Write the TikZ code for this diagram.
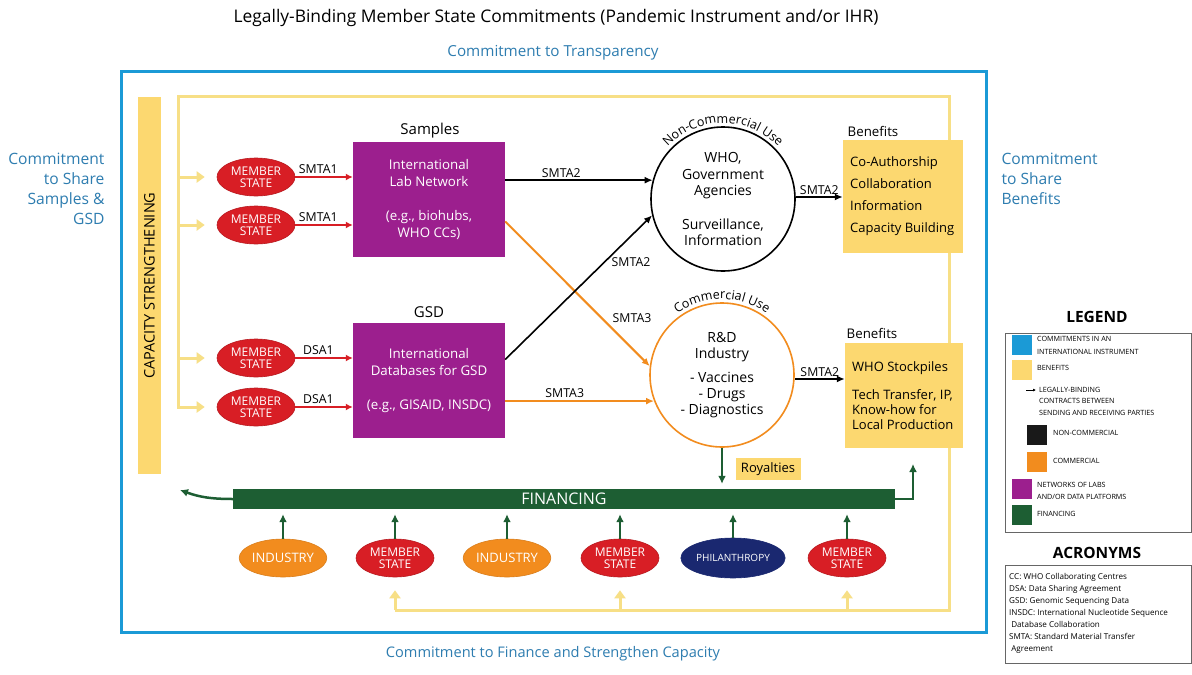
\documentclass[tikz,border=0pt]{standalone}
\usepackage{fontspec}
\setmainfont{Open Sans}
\usetikzlibrary{shapes.geometric,arrows.meta,decorations.text,calc}
\definecolor{cblue}{HTML}{1B9AD6}
\definecolor{ctext}{HTML}{2E7DB0}
\definecolor{cyellow}{HTML}{FCD870}
\definecolor{clyellow}{HTML}{F7DF86}
\definecolor{cpurple}{HTML}{9C1F8E}
\definecolor{cred}{HTML}{D81E25}
\definecolor{corange}{HTML}{F28C1E}
\definecolor{cgreen}{HTML}{1D5E33}
\definecolor{cnavy}{HTML}{1A2870}
\newcommand{\fsz}[2]{\fontsize{#1}{#2}\selectfont}
\tikzset{
 bluetxt/.style={text=ctext, font=\fsz{15.2}{20}},
 yline/.style={draw=clyellow, line width=3pt},
 yarrow/.style={yline, -{Triangle[length=8pt,width=11pt]}},
 ms/.style={ellipse, fill=cred, draw=cred!85!black, line width=0.6pt, minimum width=78pt, minimum height=38pt, inner sep=0pt, text=white, font=\fsz{12}{12}, align=center},
 ind/.style={ms, fill=corange, draw=corange!90!black, font=\fsz{13}{13}},
 phil/.style={ms, fill=cnavy, draw=cnavy, minimum width=104pt, minimum height=40pt, font=\fsz{10}{12}},
 pbox/.style={rectangle, fill=cpurple, minimum width=152pt, minimum height=115pt, inner sep=0pt, text=white, font=\fsz{13.3}{17}, align=center},
 ybox/.style={rectangle, fill=cyellow, inner sep=0pt},
 btxt/.style={anchor=west, inner sep=0pt, align=left},
 lbl/.style={font=\fsz{12.3}{13}, inner sep=2pt},
 redarr/.style={draw=cred, line width=2pt, -{Latex[length=7pt,width=7pt]}},
 blkarr/.style={draw=black, line width=1.6pt, -{Latex[length=8pt,width=7pt]}},
 orarr/.style={draw=corange, line width=2pt, -{Latex[length=8pt,width=7pt]}},
 garr/.style={draw=cgreen, line width=2pt, -{Latex[length=8pt,width=8pt]}},
 circ/.style={circle, draw=black, line width=1.6pt, minimum size=144pt, inner sep=0pt, align=center, font=\fsz{14}{16.5}},
 lgsq/.style={rectangle, minimum width=20pt, minimum height=20pt, inner sep=0pt},
 lgtxt/.style={font=\fsz{7.2}{12}, align=left, anchor=west, inner sep=0pt},
}
\begin{document}
\begin{tikzpicture}[x=1pt,y=-1pt]
\useasboundingbox[fill=white] (0,0) rectangle (1192,675);

% titles
\node[font=\fsz{17.4}{20}] (title) at (556,18) {Legally-Binding Member State Commitments (Pandemic Instrument and/or IHR)};
\node[bluetxt] (transp) at (553,53) {Commitment to Transparency};
\node[bluetxt, font=\fsz{14.6}{18}] (fincap) at (553,654) {Commitment to Finance and Strengthen Capacity};
\node[bluetxt, font=\fsz{15.6}{20}, align=right, anchor=east] (shareS) at (108,189) {Commitment\\to Share\\Samples \&\\GSD};
\node[bluetxt, font=\fsz{15.6}{20}, align=left, anchor=west] (shareB) at (998,179) {Commitment\\to Share\\Benefits};

% outer frame
\node[draw=cblue, line width=3pt, minimum width=865pt, minimum height=561pt, inner sep=0pt] (frame) at (553.5,351.5) {};

% yellow loop coordinates
\coordinate (yTL) at (178,96);
\coordinate (yTR) at (949,96);
\coordinate (yBR) at (949,610);
\coordinate (yBL) at (395,610);
\coordinate (yL4) at (178,407);

% member states (left)
\node[ms] (ms1) at (256,177) {MEMBER\\STATE};
\node[ms] (ms2) at (256,225) {MEMBER\\STATE};
\node[ms] (ms3) at (256,358) {MEMBER\\STATE};
\node[ms] (ms4) at (256,407) {MEMBER\\STATE};

% bottom ellipses
\node[ind] (ind1) at (283,558) {INDUSTRY};
\node[ms] (ms5) at (395,558) {MEMBER\\STATE};
\node[ind] (ind2) at (507,558) {INDUSTRY};
\node[ms] (ms6) at (620,558) {MEMBER\\STATE};
\node[phil] (phil) at (733,558) {PHILANTHROPY};
\node[ms] (ms7) at (847,558) {MEMBER\\STATE};

% yellow loop
\draw[yarrow, shorten >=12pt] (yBL) -- (yBR) -- (yTR) -- (yTL) -- (yL4) -- (ms4.west);
\draw[yarrow, shorten >=12pt] (yTL |- ms1) -- (ms1.west);
\draw[yarrow, shorten >=12pt] (yTL |- ms2) -- (ms2.west);
\draw[yarrow, shorten >=12pt] (yTL |- ms3) -- (ms3.west);
\draw[yarrow, shorten >=13pt] (yBL) -- (ms5.south);
\draw[yarrow, shorten >=13pt] (ms6.south |- yBL) -- (ms6.south);
\draw[yarrow, shorten >=13pt] (ms7.south |- yBL) -- (ms7.south);

% capacity bar
\node[fill=cyellow, minimum width=377pt, minimum height=23pt, inner sep=0pt, rotate=90, font=\fsz{14.5}{15}] (cap) at (149.5,285.5) {CAPACITY STRENGTHENING};

% purple boxes
\node[pbox] (lab) at (429,199.5) {International\\Lab Network\\[17pt](e.g., biohubs,\\WHO CCs)};
\node[pbox] (gsd) at (429,380.5) {International\\Databases for GSD\\[17pt](e.g., GISAID, INSDC)};
\node[font=\fsz{15}{17}] (labT) at (430,131) {Samples};
\node[font=\fsz{15}{17}] (gsdT) at (429,312) {GSD};

% circles
\node[circ] (nc) at (723,199) {WHO,\\Government\\Agencies\\[17pt]Surveillance,\\Information};
\node[circ, draw=corange, font=\fsz{14}{16}] (cc) at (722,375) {R\&D\\Industry\\[8pt]- Vaccines\\- Drugs\\- Diagnostics};
\path[decorate, decoration={text along path, text align=center, text={|\fsz{12.5}{14}|Non-Commercial Use}}] (nc.center) ++(150:76pt) arc[start angle=150, end angle=30, radius=76pt];
\path[decorate, decoration={text along path, text align=center, text={|\fsz{12.5}{14}|Commercial Use}}] (cc.center) ++(140:76pt) arc[start angle=140, end angle=40, radius=76pt];

% benefits
\node[ybox, minimum width=120pt, minimum height=113pt] (ben1) at (903,196.5) {};
\node[btxt, font=\fsz{13}{22}] (ben1t) at (850,196.5) {Co-Authorship\\Collaboration\\Information\\Capacity Building};
\node[ybox, minimum width=118pt, minimum height=105pt] (ben2) at (904,395.5) {};
\node[btxt, font=\fsz{13}{15}] (ben2t) at (852,396) {WHO Stockpiles\\[13pt]Tech Transfer, IP,\\Know-how for\\Local Production};
\node[font=\fsz{13.3}{15}] (ben1T) at (873,131) {Benefits};
\node[font=\fsz{13.3}{15}] (ben2T) at (872,333) {Benefits};

% contracts
\draw[redarr] (ms1.east) -- (ms1.east -| lab.west) node[pos=0.4, above, lbl] {SMTA1};
\draw[redarr] (ms2.east) -- (ms2.east -| lab.west) node[pos=0.4, above, lbl] {SMTA1};
\draw[redarr] (ms3.east) -- (ms3.east -| gsd.west) node[pos=0.4, above, lbl] {DSA1};
\draw[redarr] (ms4.east) -- (ms4.east -| gsd.west) node[pos=0.4, above, lbl] {DSA1};

\draw[blkarr] (lab.east |- nc.165) -- (nc.165) node[pos=0.38, above, lbl] {SMTA2};
\draw[orarr] ($(lab.east)+(0,22)$) -- (cc.173);
\draw[blkarr] ($(gsd.east)+(0,-21)$) -- (nc.193);
\draw[orarr] (gsd.east |- cc.201) -- (cc.201) node[pos=0.4, above, lbl] {SMTA3};
\node[lbl] (l2) at (631,262) {SMTA2};
\node[lbl] (l3) at (632,318) {SMTA3};

\coordinate (ncE) at ($(nc.east)+(0,-2)$);
\coordinate (ccE) at ($(cc.east)+(0,4)$);
\draw[blkarr] (ncE) -- (ncE -| ben1.west) node[midway, above, lbl] {SMTA2};
\draw[blkarr] (ccE) -- (ccE -| ben2.west) node[midway, above, lbl] {SMTA2};

% financing
\node[fill=cgreen, minimum width=662pt, minimum height=20pt, inner sep=0pt, text=white, font=\fsz{16}{16}] (fin) at (564,499) {FINANCING};
\node[fill=cyellow, minimum width=65pt, minimum height=22pt, inner sep=0pt, font=\fsz{13}{14}] (roy) at (768,469) {Royalties};
\draw[garr, shorten >=5pt] (cc.south) -- (cc.south |- fin.north);
\coordinate (finL) at (180,490);
\coordinate (finR) at (913,464);
\draw[garr, line width=2.5pt] (fin.west) to[out=180,in=-20] (finL);
\draw[garr, line width=2.5pt] (fin.east) -| (finR);
\foreach \n in {ind1,ms5,ind2,ms6,phil,ms7}{
  \draw[garr, shorten >=5pt] (\n.north) -- (\n.north |- fin.south);
}

% legend
\node[font=\bfseries\fsz{15.5}{17}] (legT) at (1097,317) {LEGEND};
\node[draw=black!60, line width=0.8pt, minimum width=186pt, minimum height=199pt, inner sep=0pt] (legB) at (1098,432.5) {};
\node[lgsq, fill=cblue] (lg1) at (1022,345) {};
\node[lgtxt, font=\fsz{7.2}{13}] (lt1) at (1037,345) {COMMITMENTS IN AN\\INTERNATIONAL INSTRUMENT};
\node[lgsq, fill=cyellow] (lg2) at (1022,370) {};
\node[lgtxt] (lt2) at (1037,368) {BENEFITS};
\coordinate (la1) at (1026,390);
\coordinate (la2) at (1036,390);
\draw[black, line width=0.6pt, -{Latex[length=3pt,width=3pt]}] (la1) -- (la2);
\node[lgtxt, font=\fsz{7.2}{11.5}] (lt3) at (1039,401) {LEGALLY-BINDING\\CONTRACTS BETWEEN\\SENDING AND RECEIVING PARTIES};
\node[lgsq, fill=black!90] (lg4) at (1037,435) {};
\node[lgtxt] (lt4) at (1053,433) {NON-COMMERCIAL};
\node[lgsq, fill=corange] (lg5) at (1037,462) {};
\node[lgtxt] (lt5) at (1053,461) {COMMERCIAL};
\node[lgsq, fill=cpurple] (lg6) at (1022,489) {};
\node[lgtxt] (lt6) at (1037,491) {NETWORKS OF LABS\\AND/OR DATA PLATFORMS};
\node[lgsq, fill=cgreen] (lg7) at (1022,515) {};
\node[lgtxt] (lt7) at (1037,514) {FINANCING};

% acronyms
\node[font=\bfseries\fsz{15.5}{17}] (acrT) at (1097,553) {ACRONYMS};
\node[draw=black!60, line width=0.8pt, minimum width=186pt, minimum height=98pt, inner sep=0pt] (acrB) at (1098,614) {};
\node[anchor=north west, inner sep=0pt, align=left, font=\fsz{8.1}{12}] (acrL) at (1009,573) {CC: WHO Collaborating Centres\\DSA: Data Sharing Agreement\\GSD: Genomic Sequencing Data\\INSDC: International Nucleotide Sequence\\\ Database Collaboration\\SMTA: Standard Material Transfer\\\ Agreement};
\end{tikzpicture}
\end{document}
